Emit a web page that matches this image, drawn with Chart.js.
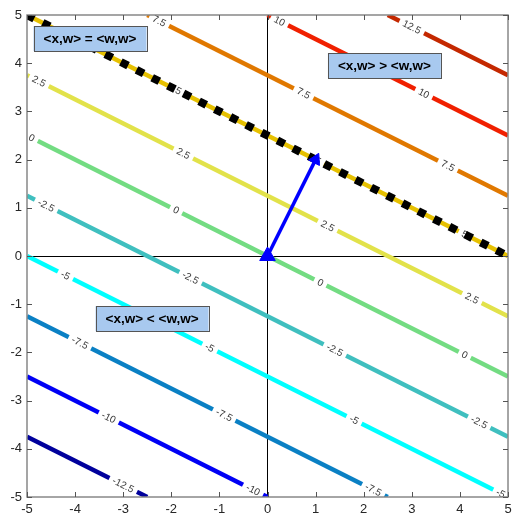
<!DOCTYPE html>
<html>
<head>
<meta charset="utf-8">
<script src="https://cdn.jsdelivr.net/npm/chart.js"></script>
<style>
  html, body { margin: 0; padding: 0; background: #fff; overflow: hidden; }
  canvas { display: block; }
</style>
</head>
<body>
<canvas id="contourChart" width="512" height="516"></canvas>
<script>
// contour levels of f(x) = <x,w>
const levels = [-12.5, -10, -7.5, -5, -2.5, 0, 2.5, 5, 7.5, 10, 12.5];
const levelColors = ["#00009c", "#0000f5", "#0a80c4", "#00ffff", "#3fbfbf", "#73dc82",
                     "#e2e24a", "#e6c000", "#e07800", "#f02000", "#c42800"];

// where each contour line enters / leaves the [-5,5] box
const lineStartX = [-5, -5, -5, -5, -5, -5, -5, -5, -2.5, 0, 2.5];
const lineStartY = [-3.75, -2.5, -1.25, 0, 1.25, 2.5, 3.75, 5, 5, 5, 5];
const lineEndX = [-2.5, 0, 2.5, 5, 5, 5, 5, 5, 5, 5, 5];
const lineEndY = [-5, -5, -5, -5, -3.75, -2.5, -1.25, 0, 1.25, 2.5, 3.75];

// inline contour labels, one list per level
const labelX = [[-3.0], [-3.3, -0.3], [-3.9, -0.9, 2.2], [-4.2, -1.2, 1.8, 4.85],
                [-4.6, -1.6, 1.4, 4.4], [-4.9, -1.9, 1.1, 4.1], [-4.75, -1.75, 1.25, 4.25],
                [-1.85, 1.05, 4.1], [-2.25, 0.75, 3.75], [0.25, 3.25], [3.0]];
const labelY = [[-4.75], [-3.35, -4.85], [-1.8, -3.3, -4.85], [-0.4, -1.9, -3.4, -4.925],
                [1.05, -0.45, -1.95, -3.45], [2.45, 0.95, -0.55, -2.05], [3.625, 2.125, 0.625, -0.875],
                [3.425, 1.975, 0.45], [4.875, 3.375, 1.875], [4.875, 3.375], [4.75]];

// w vector and the level <w,w>
const wVec = [1, 2];
const wwIndex = levels.indexOf(wVec[0] * wVec[0] + wVec[1] * wVec[1]);

const tickValues = [-5, -4, -3, -2, -1, 0, 1, 2, 3, 4, 5];

const boxTexts = ["<x,w> = <w,w>", "<x,w> > <w,w>", "<x,w> < <w,w>"];

// --- build datasets
const datasets = levels.map((lv, i) => ({
  data: [{ x: lineStartX[i], y: lineStartY[i] }, { x: lineEndX[i], y: lineEndY[i] }],
  showLine: true,
  borderColor: levelColors[i],
  borderWidth: 4.5,
  pointRadius: 0,
  order: 3
}));

const dashIndex = datasets.length;
datasets.push({
  data: [{ x: lineStartX[wwIndex], y: lineStartY[wwIndex] }, { x: lineEndX[wwIndex], y: lineEndY[wwIndex] }],
  showLine: true,
  borderColor: "#000",
  borderWidth: 8,
  borderDash: [8, 9.5],
  pointRadius: 0,
  order: 2
});

const arrowAngle = Math.atan2(wVec[0], wVec[1]) * 180 / Math.PI;
datasets.push({
  data: [{ x: 0, y: 0 }, { x: wVec[0], y: wVec[1] }],
  showLine: true,
  borderColor: "#0000ff",
  borderWidth: 3.5,
  pointStyle: "triangle",
  pointRadius: [9, 7],
  pointRotation: [0, arrowAngle],
  pointBackgroundColor: "#0000ff",
  pointBorderColor: "#0000ff",
  pointBorderWidth: 1,
  order: 1
});

// text boxes are placed at data coordinates, like text(x,y,...)
const boxAnchors = [[-3.69, 4.51], [2.43, 3.95], [-2.4, -1.3]];

const decorations = {
  id: "decorations",
  beforeDatasetDraw(chart, args) {
    if (args.index !== dashIndex) return;
    const ctx = chart.ctx, xs = chart.scales.x, ys = chart.scales.y, a = chart.chartArea;
    ctx.save();
    ctx.beginPath();
    ctx.rect(a.left, a.top, a.right - a.left, a.bottom - a.top);
    ctx.clip();
    ctx.font = "10px 'Liberation Sans', Arial, sans-serif";
    ctx.textAlign = "center";
    ctx.textBaseline = "middle";
    levels.forEach((lv, i) => {
      const ang = Math.atan2(ys.getPixelForValue(lineEndY[i]) - ys.getPixelForValue(lineStartY[i]),
                             xs.getPixelForValue(lineEndX[i]) - xs.getPixelForValue(lineStartX[i]));
      const txt = String(lv);
      const tw = ctx.measureText(txt).width;
      labelX[i].forEach((lx, j) => {
        ctx.save();
        ctx.translate(xs.getPixelForValue(lx), ys.getPixelForValue(labelY[i][j]));
        ctx.rotate(ang);
        ctx.fillStyle = "#fff";
        ctx.fillRect(-tw / 2 - 4, -6, tw + 8, 12);
        ctx.fillStyle = "#3a3a3a";
        ctx.fillText(txt, 0, 0.5);
        ctx.restore();
      });
    });
    ctx.restore();
  },
  afterDraw(chart) {
    const ctx = chart.ctx, xs = chart.scales.x, ys = chart.scales.y, a = chart.chartArea;
    ctx.save();
    // text boxes
    ctx.font = "bold 13.5px 'Liberation Sans', Arial, sans-serif";
    ctx.textAlign = "center";
    ctx.textBaseline = "middle";
    boxTexts.forEach((t, i) => {
      const cx = xs.getPixelForValue(boxAnchors[i][0]);
      const cy = ys.getPixelForValue(boxAnchors[i][1]);
      const w = ctx.measureText(t).width + 20, h = 25;
      ctx.fillStyle = "#a8c9ef";
      ctx.fillRect(cx - w / 2, cy - h / 2, w, h);
      ctx.strokeStyle = "#555";
      ctx.lineWidth = 1;
      ctx.strokeRect(Math.round(cx - w / 2) + 0.5, Math.round(cy - h / 2) + 0.5, Math.round(w), h);
      ctx.fillStyle = "#000";
      ctx.fillText(t, cx, cy + 0.5);
    });
    // axes frame with inward ticks
    ctx.strokeStyle = "#888";
    ctx.lineWidth = 1.5;
    ctx.strokeRect(a.left, a.top, a.right - a.left, a.bottom - a.top);
    ctx.strokeStyle = "#555";
    ctx.lineWidth = 1;
    ctx.beginPath();
    tickValues.forEach(v => {
      const px = Math.round(xs.getPixelForValue(v)) + 0.5;
      ctx.moveTo(px, a.bottom); ctx.lineTo(px, a.bottom - 5);
      ctx.moveTo(px, a.top); ctx.lineTo(px, a.top + 5);
      const py = Math.round(ys.getPixelForValue(v)) + 0.5;
      ctx.moveTo(a.left, py); ctx.lineTo(a.left + 5, py);
      ctx.moveTo(a.right, py); ctx.lineTo(a.right - 5, py);
    });
    ctx.stroke();
    ctx.restore();
  }
};

// fixed axis sizes; drop the automatic label overhang padding
const fixSize = (prop, size) => s => {
  s[prop] = size;
  s.paddingLeft = s.paddingRight = s.paddingTop = s.paddingBottom = 0;
};

const axisOpts = (fit) => ({
  type: "linear",
  min: -5,
  max: 5,
  afterBuildTicks: s => { s.ticks = tickValues.map(v => ({ value: v })); },
  afterFit: fit,
  border: { display: false },
  grid: {
    drawTicks: false,
    lineWidth: 1,
    color: c => (c.tick && c.tick.value === 0) ? "#000" : "rgba(0,0,0,0)"
  },
  ticks: {
    padding: 5,
    color: "#262626",
    font: { family: "'Liberation Sans', Arial, sans-serif", size: 13 }
  }
});

new Chart(document.getElementById("contourChart"), {
  type: "scatter",
  data: { datasets: datasets },
  options: {
    responsive: false,
    animation: false,
    events: [],
    layout: { autoPadding: false, padding: { top: 15, right: 4, left: 0, bottom: 0 } },
    plugins: { legend: { display: false }, tooltip: { enabled: false } },
    scales: {
      x: axisOpts(fixSize("height", 19)),
      y: axisOpts(fixSize("width", 27))
    }
  },
  plugins: [decorations]
});
</script>
</body>
</html>
